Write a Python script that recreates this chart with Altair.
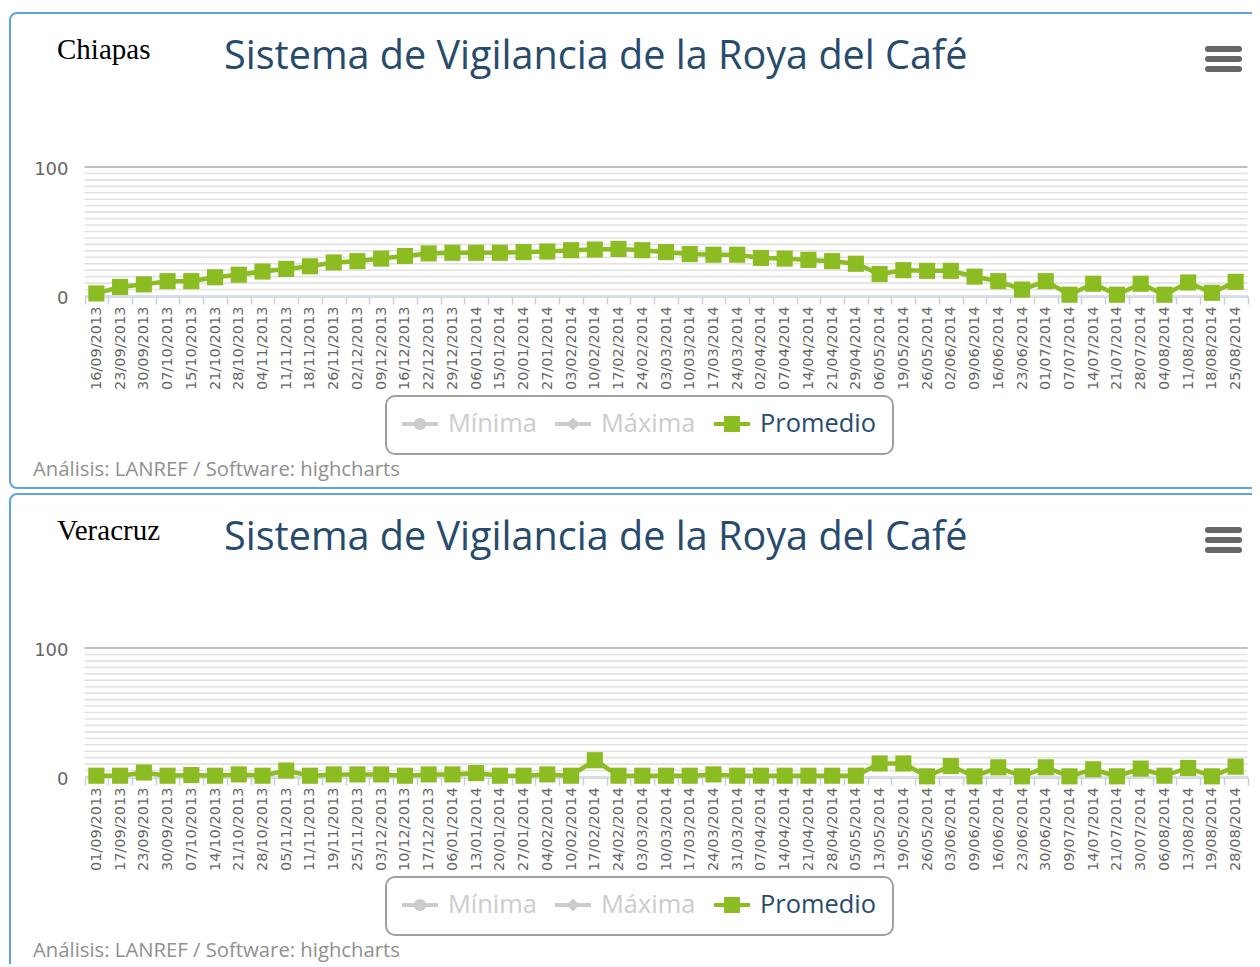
import altair as alt
import pandas as pd

ESTADOS = ["Chiapas", "Veracruz"]
TITULO = "Sistema de Vigilancia de la Roya del Café"
SERIES = ["Mínima", "Máxima", "Promedio"]
CREDITOS = "Análisis: LANREF / Software: highcharts"
Y_TICKS = [0, 100]
Y_GRID = [0, 5, 10, 15, 20, 25, 30, 35, 40, 45, 50, 55, 60, 65, 70, 75, 80, 85, 90, 95, 100]

FECHAS_CHIAPAS = ["16/09/2013", "23/09/2013", "30/09/2013", "07/10/2013", "15/10/2013", "21/10/2013",
                  "28/10/2013", "04/11/2013", "11/11/2013", "18/11/2013", "26/11/2013", "02/12/2013",
                  "09/12/2013", "16/12/2013", "22/12/2013", "29/12/2013", "06/01/2014", "15/01/2014",
                  "20/01/2014", "27/01/2014", "03/02/2014", "10/02/2014", "17/02/2014", "24/02/2014",
                  "03/03/2014", "10/03/2014", "17/03/2014", "24/03/2014", "02/04/2014", "07/04/2014",
                  "14/04/2014", "21/04/2014", "29/04/2014", "06/05/2014", "19/05/2014", "26/05/2014",
                  "02/06/2014", "09/06/2014", "16/06/2014", "23/06/2014", "01/07/2014", "07/07/2014",
                  "14/07/2014", "21/07/2014", "28/07/2014", "04/08/2014", "11/08/2014", "18/08/2014",
                  "25/08/2014"]
PROMEDIO_CHIAPAS = [2, 7, 9, 11.5, 11.5, 14.5, 16.5, 19, 21, 23, 26, 27, 29, 31, 33, 33.5, 33.5,
                    33.5, 34, 34.5, 35.5, 36, 36.5, 35.5, 34, 32.5, 32, 32, 29.5, 29, 28, 27, 25,
                    17, 20, 19.5, 19.5, 15, 11.5, 5, 11.5, 1, 9.5, 1, 9.5, 1, 10.5, 2.5, 11]

FECHAS_VERACRUZ = ["01/09/2013", "17/09/2013", "23/09/2013", "30/09/2013", "07/10/2013", "14/10/2013",
                   "21/10/2013", "28/10/2013", "05/11/2013", "11/11/2013", "19/11/2013", "25/11/2013",
                   "03/12/2013", "10/12/2013", "17/12/2013", "06/01/2014", "13/01/2014", "20/01/2014",
                   "27/01/2014", "04/02/2014", "10/02/2014", "17/02/2014", "24/02/2014", "03/03/2014",
                   "10/03/2014", "17/03/2014", "24/03/2014", "31/03/2014", "07/04/2014", "14/04/2014",
                   "21/04/2014", "28/04/2014", "05/05/2014", "13/05/2014", "19/05/2014", "26/05/2014",
                   "03/06/2014", "09/06/2014", "16/06/2014", "23/06/2014", "30/06/2014", "09/07/2014",
                   "14/07/2014", "21/07/2014", "30/07/2014", "06/08/2014", "13/08/2014", "19/08/2014",
                   "28/08/2014"]
PROMEDIO_VERACRUZ = [1, 1, 3.5, 1, 1.5, 1, 2, 1, 5, 1, 2, 2, 2, 1, 2, 2, 3, 1, 1, 2, 1, 13, 1,
                     1, 1, 1, 2, 1, 1, 1, 1, 1, 1, 10.5, 10.5, 0.5, 8.5, 0.5, 7.5, 0.5, 7.5, 0.5,
                     6, 0.5, 6.5, 1, 7, 0.5, 8]

# layout (pixels)
W, H = 1244, 956
DY = 481
X0, X1 = 76.5, 1239.5
Y0, Y100 = 288, 159
GREEN = "#8BBC21"
BORDE = "#5EA2EA"
TITLE_COLOR = "#274B6D"
HIDDEN = "#CCCCCC"

one = pd.DataFrame({"k": [0]})


def panel(k, estado, fechas, valores):
    off = k * DY
    df = pd.DataFrame({"fecha": fechas, "valor": valores})
    xs = alt.Scale(type="band", domain=fechas, range=[X0, X1], paddingInner=0, paddingOuter=0)
    ys = alt.Scale(type="linear", domain=[0, 100], range=[Y0 + off, Y100 + off], nice=False, zero=False)

    yaxis = alt.Axis(values=Y_TICKS, orient="left", offset=-60, ticks=False, domain=False, grid=False,
                     labelPadding=0, labelFont="DejaVu Sans", labelFontSize=18, labelColor="#666666",
                     labelOffset=2, title=None)
    xaxis = alt.Axis(orient="bottom", offset=Y0 + off - H, tickBand="extent", labelAngle=-90,
                     labelFont="DejaVu Sans", labelFontSize=14.5, labelColor="#666666",
                     labelPadding=2, labelOverlap=False, tickColor="#C0D0E0", tickSize=8,
                     tickWidth=1.5, domainColor="#C0D0E0", domainWidth=2.5, grid=False, title=None)

    grid = alt.Chart(pd.DataFrame({"v": Y_GRID})).mark_rule().encode(
        y=alt.Y("v:Q", scale=ys, axis=yaxis),
        x=alt.value(X0), x2=alt.value(X1),
        color=alt.condition("datum.v == 100", alt.value("#C0C0C0"), alt.value("#E2E2E2")),
        strokeWidth=alt.condition("datum.v == 100", alt.value(2), alt.value(1.6)),
    )
    line = alt.Chart(df).mark_line(color=GREEN, strokeWidth=4.5).encode(
        x=alt.X("fecha:N", scale=xs, axis=xaxis, bandPosition=0.5, sort=None),
        y=alt.Y("valor:Q", scale=ys, axis=None),
    )
    pts = alt.Chart(df).mark_point(shape="square", filled=True, size=260, color=GREEN, opacity=1).encode(
        x=alt.X("fecha:N", scale=xs, axis=None, bandPosition=0.5, sort=None),
        y=alt.Y("valor:Q", scale=ys, axis=None),
    )

    deco = []
    # panel border
    deco.append(alt.Chart(one).mark_rect(fillOpacity=0, stroke=BORDE, strokeWidth=2, cornerRadius=7).encode(
        x=alt.value(2), x2=alt.value(1320), y=alt.value(5 + off), y2=alt.value(480 + off if k == 0 else 1600)))
    # state label
    deco.append(alt.Chart(one).mark_text(font="Liberation Serif", fontSize=29, color="black",
                                         align="left", baseline="middle").encode(
        x=alt.value(49), y=alt.value(42 + off), text=alt.value(estado)))
    # title
    deco.append(alt.Chart(one).mark_text(font="Open Sans", fontSize=39.6, color=TITLE_COLOR,
                                         align="left", baseline="middle").encode(
        x=alt.value(216), y=alt.value(49 + off), text=alt.value(TITULO)))
    # menu icon
    for yy in (41, 51, 61):
        deco.append(alt.Chart(one).mark_rule(color="#666666", strokeWidth=6, strokeCap="round").encode(
            x=alt.value(1200), x2=alt.value(1231), y=alt.value(yy + off)))
    # legend box
    deco.append(alt.Chart(one).mark_rect(fill="white", stroke="#A0A0A0", strokeWidth=2, cornerRadius=9).encode(
        x=alt.value(378), x2=alt.value(885), y=alt.value(388 + off), y2=alt.value(446 + off)))
    leg_x = [394, 547, 706]
    shapes = ["circle", "diamond", "square"]
    sym_colors = [HIDDEN, HIDDEN, GREEN]
    txt_colors = [HIDDEN, HIDDEN, TITLE_COLOR]
    sizes = [150, 170, 256]
    for i, name in enumerate(SERIES):
        lx = leg_x[i]
        deco.append(alt.Chart(one).mark_rule(color=sym_colors[i], strokeWidth=4).encode(
            x=alt.value(lx), x2=alt.value(lx + 36), y=alt.value(416 + off)))
        deco.append(alt.Chart(one).mark_point(shape=shapes[i], filled=True, opacity=1,
                                              size=sizes[i], color=sym_colors[i]).encode(
            x=alt.value(lx + 18), y=alt.value(416 + off)))
        deco.append(alt.Chart(one).mark_text(font="Open Sans", fontSize=25.4, color=txt_colors[i],
                                             align="left", baseline="middle").encode(
            x=alt.value(lx + 46), y=alt.value(416 + off), text=alt.value(name)))
    # credits
    deco.append(alt.Chart(one).mark_text(font="Open Sans", fontSize=20.3, color="#909090",
                                         align="left", baseline="middle").encode(
        x=alt.value(25), y=alt.value(462 + off), text=alt.value(CREDITOS)))
    return [grid, line, pts] + deco


layers = panel(0, ESTADOS[0], FECHAS_CHIAPAS, PROMEDIO_CHIAPAS) + \
    panel(1, ESTADOS[1], FECHAS_VERACRUZ, PROMEDIO_VERACRUZ)

chart = alt.layer(*layers).resolve_scale(x="independent", y="independent").properties(
    width=W, height=H, autosize=alt.AutoSizeParams(type="none"), padding=0
).configure_view(strokeWidth=0)

chart.save("out.html", embed_options={"renderer": "svg", "actions": False})
